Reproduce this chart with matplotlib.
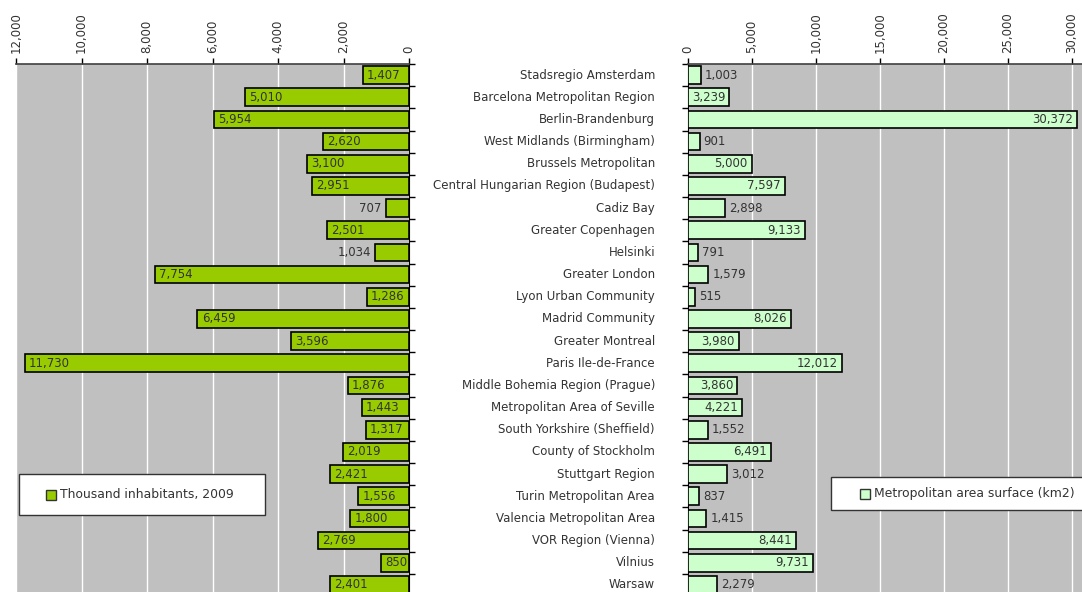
import numpy as np
import matplotlib
matplotlib.use("Agg")
import matplotlib.pyplot as plt
from matplotlib import transforms
from matplotlib.patches import Rectangle
from matplotlib.ticker import FuncFormatter

# data
regions = ["Stadsregio Amsterdam", "Barcelona Metropolitan Region", "Berlin-Brandenburg",
           "West Midlands (Birmingham)", "Brussels Metropolitan",
           "Central Hungarian Region (Budapest)", "Cadiz Bay", "Greater Copenhagen",
           "Helsinki", "Greater London", "Lyon Urban Community", "Madrid Community",
           "Greater Montreal", "Paris Ile-de-France", "Middle Bohemia Region (Prague)",
           "Metropolitan Area of Seville", "South Yorkshire (Sheffield)",
           "County of Stockholm", "Stuttgart Region", "Turin Metropolitan Area",
           "Valencia Metropolitan Area", "VOR Region (Vienna)", "Vilnius", "Warsaw"]
inhabitants = [1407, 5010, 5954, 2620, 3100, 2951, 707, 2501, 1034, 7754, 1286, 6459,
               3596, 11730, 1876, 1443, 1317, 2019, 2421, 1556, 1800, 2769, 850, 2401]
surface = [1003, 3239, 30372, 901, 5000, 7597, 2898, 9133, 791, 1579, 515, 8026,
           3980, 12012, 3860, 4221, 1552, 6491, 3012, 837, 1415, 8441, 9731, 2279]
left_ticks = [0, 2000, 4000, 6000, 8000, 10000, 12000]
right_ticks = [0, 5000, 10000, 15000, 20000, 25000, 30000]

W, H = 1082, 592
FS = 8.5
TXT = "#333333"
plt.rcParams["font.family"] = ["DejaVu Sans"]

fig = plt.figure(figsize=(W / 100, H / 100), dpi=100)

def fx(px):
    return px / W

def fy(py):
    return 1 - py / H

axL = fig.add_axes([fx(16), fy(596), fx(409 - 16), (596 - 64) / H])
axR = fig.add_axes([fx(688), fy(596), fx(1082 - 688), (596 - 64) / H])

y = np.arange(len(regions))
comma = FuncFormatter(lambda v, p: f"{int(v):,}")

barsL = axL.barh(y, inhabitants, height=0.8, color="#99CC00", edgecolor="black", linewidth=1.2, zorder=3)
barsR = axR.barh(y, surface, height=0.8, color="#CCFFCC", edgecolor="black", linewidth=1.2, zorder=3)

axL.set_xlim(12000, 0)
axR.set_xlim(0, 30000 * 394 / 384)
for ax, ticks in ((axL, left_ticks), (axR, right_ticks)):
    ax.set_ylim(len(regions) - 0.5, -0.5)
    ax.set_facecolor("#C0C0C0")
    ax.set_xticks(ticks)
    ax.xaxis.set_major_formatter(comma)
    ax.xaxis.tick_top()
    ax.tick_params(axis="x", labelrotation=90, labelsize=FS, labelcolor=TXT,
                   color="black", length=4, width=1, pad=4)
    ax.grid(axis="x", color="white", linewidth=1, zorder=1)
    ax.set_yticks(np.arange(len(regions) + 1) - 0.5)
    ax.set_yticklabels([])
    ax.tick_params(axis="y", length=4, width=1, color="black")
    for s in ax.spines.values():
        s.set_visible(False)
    ax.spines["top"].set_visible(True)
    ax.spines["top"].set_color("#404040")
    ax.spines["top"].set_linewidth(1.2)

axL.yaxis.tick_right()
axL.spines["right"].set_visible(True)
axL.spines["right"].set_color("black")
axR.spines["left"].set_visible(True)
axR.spines["left"].set_color("black")

# category labels between the panels
tr = transforms.blended_transform_factory(fig.transFigure, axL.transData)
for i, name in enumerate(regions):
    fig.text(fx(655), i, name, transform=tr, ha="right", va="center", fontsize=FS, color=TXT)

# value labels: inside at the outer end if they fit, else outside
renderer = fig.canvas.get_renderer()

def label_bars(ax, bars, values, sign):
    for b, v in zip(bars, values):
        yc = b.get_y() + b.get_height() / 2
        t = ax.annotate(f"{v:,}", (v, yc), xytext=(-sign * 3, 0), textcoords="offset points",
                        ha="left" if sign < 0 else "right", va="center", fontsize=FS,
                        color=TXT, zorder=4)
        tw = t.get_window_extent(renderer).width
        bw = abs(ax.transData.transform((v, 0))[0] - ax.transData.transform((0, 0))[0])
        if bw < tw * 1.18:
            t.set_ha("right" if sign < 0 else "left")
            t.xyann = (sign * 3, 0)

label_bars(axL, barsL, inhabitants, -1)
label_bars(axR, barsR, surface, 1)

# legends
def legend_box(x0, y0, x1, y1, mx, color, text):
    fig.patches.append(Rectangle((fx(x0), fy(y1)), fx(x1 - x0), (y1 - y0) / H,
                                 transform=fig.transFigure, facecolor="white",
                                 edgecolor="#333333", linewidth=1, zorder=5))
    ym = (y0 + y1) / 2
    fig.patches.append(Rectangle((fx(mx), fy(ym + 5)), fx(10), 10 / H,
                                 transform=fig.transFigure, facecolor=color,
                                 edgecolor="#333333", linewidth=1, zorder=6))
    fig.text(fx(mx + 14), fy(ym), text, ha="left", va="center", fontsize=8.9,
             color=TXT, zorder=6)

legend_box(19, 474, 265, 515, 46, "#99CC00", "Thousand inhabitants, 2009")
legend_box(831, 477, 1090, 510, 860, "#CCFFCC", "Metropolitan area surface (km2)")

fig.savefig("out.png", dpi=100)
